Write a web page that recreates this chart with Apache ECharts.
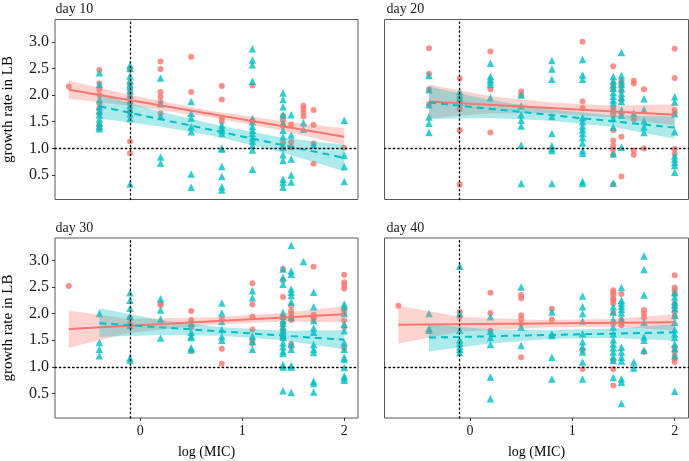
<!DOCTYPE html>
<html>
<head>
<meta charset="utf-8">
<script src="https://cdn.jsdelivr.net/npm/echarts@6/dist/echarts.min.js"></script>
<style>
  html, body { margin: 0; padding: 0; background: #fff; }
  #chart { width: 689px; height: 461px; }
</style>
</head>
<body>
<div id="chart"></div>
<script>
// log(MIC) levels, every column of points below is aligned to these
var xLevels = [-0.7, -0.4, -0.1, 0.2, 0.5, 0.8, 1.1, 1.4, 1.48, 1.6, 1.7, 2.0];
var xTicks = [0, 1, 2];
var yTicks = [0.5, 1.0, 1.5, 2.0, 2.5, 3.0];
var panelTitles = ['day 10', 'day 20', 'day 30', 'day 40'];
var micLine = -0.1;   // vertical dotted line
var rateLine = 1.0;   // horizontal dotted line

// day 10
var d10Red = [
  [2.16], [2.47, 2.22, 2.11, 2.0, 1.84, 1.75, 1.66, 1.44, 1.38], [2.49, 2.2, 2.06, 1.97, 1.84, 1.69, 1.13, 0.91],
  [2.63, 2.49, 2.06, 1.97, 1.87, 1.66], [2.72, 2.06], [2.17, 1.92, 1.56, 1.5], [2.18, 1.52],
  [1.61, 1.53, 1.42, 1.1, 1.0], [1.45, 1.12, 1.02], [1.8, 1.74, 1.67, 1.6], [1.72, 1.44, 1.09, 0.71], [1.01]
];
var d10Teal = [
  [], [2.42, 2.2, 1.92, 1.78, 1.7, 1.63, 1.55, 1.47, 1.41, 1.37],
  [2.56, 2.5, 2.36, 2.28, 2.2, 2.16, 2.08, 2.0, 1.9, 1.81, 1.73, 1.65, 1.56, 0.33],
  [2.32, 1.84, 1.6, 0.84, 0.72], [1.88, 1.66, 1.57, 1.4, 1.31, 0.52, 0.27],
  [1.44, 1.38, 1.34, 1.28, 1.0, 0.99, 0.66, 0.47, 0.28, 0.22],
  [2.87, 2.66, 2.57, 2.26, 1.56, 1.5, 1.41, 1.34, 1.28, 1.2, 1.14, 1.06, 0.97, 0.61],
  [2.04, 1.92, 1.78, 1.63, 1.47, 1.34, 1.22, 1.03, 0.88, 0.77, 0.42, 0.36, 0.27],
  [1.63, 1.25, 0.8, 0.5, 0.37], [1.48, 1.36], [1.06], [1.53, 0.87, 0.66, 0.38]
];
var d10RedFit = [[-0.7, 2.10], [2.0, 1.22]];
var d10TealFit = [[-0.4, 1.79], [2.0, 0.82]];
var d10RedBand = [[-0.7, 1.93, 2.27], [-0.1, 1.80, 2.00], [0.7, 1.58, 1.70], [1.4, 1.33, 1.51], [2.0, 1.06, 1.38]];
var d10TealBand = [[-0.4, 1.56, 2.02], [0.2, 1.41, 1.69], [0.8, 1.20, 1.42], [1.4, 0.92, 1.20], [2.0, 0.57, 1.07]];

// day 20
var d20Red = [
  [], [2.88, 2.4, 2.11, 1.83], [2.31, 1.91, 1.74, 1.34, 0.32], [2.82, 2.11, 1.3], [2.07, 2.0], [],
  [3.0, 1.88, 1.76], [2.54, 2.21, 2.12, 1.75, 1.62, 1.34, 1.15, 1.05, 0.98, 0.88, 0.32],
  [2.26, 2.18, 2.08, 1.92, 1.66, 1.22, 0.47], [2.27, 2.22, 1.54, 0.96, 0.88], [2.11, 1.0],
  [2.87, 2.32, 1.72, 1.66, 0.99, 0.9]
];
var d20Teal = [
  [], [2.37, 2.1, 1.82, 1.59, 1.47, 1.3], [2.07, 2.0, 1.94, 1.87], [2.6, 2.35, 2.3, 2.25, 2.2, 1.95],
  [2.0, 1.8, 1.63, 1.53, 1.42, 1.06, 0.34], [2.65, 2.49, 2.3, 1.6, 1.28, 1.05, 1.0, 0.96, 0.34],
  [2.67, 2.38, 2.3, 1.58, 1.5, 1.42, 1.35, 1.28, 1.2, 1.1, 0.96, 0.91, 0.38, 0.34],
  [2.35, 2.27, 2.2, 2.13, 2.05, 1.98, 1.91, 1.85, 1.72, 1.56, 1.4, 0.9, 0.35],
  [2.8, 2.37, 2.27, 2.2, 2.12, 2.03, 1.95, 1.88, 1.72, 1.62, 1.02], [1.66],
  [1.93, 1.73, 1.52, 1.4, 1.3], [1.97, 1.87, 1.65, 1.31, 0.86, 0.8, 0.74, 0.68, 0.55]
];
var d20RedFit = [[-0.4, 1.88], [2.0, 1.63]];
var d20TealFit = [[-0.4, 1.86], [2.0, 1.39]];
var d20RedBand = [[-0.4, 1.56, 2.20], [0.2, 1.66, 1.98], [0.8, 1.66, 1.86], [1.4, 1.58, 1.80], [2.0, 1.43, 1.83]];
var d20TealBand = [[-0.4, 1.55, 2.16], [0.2, 1.57, 1.91], [0.8, 1.52, 1.73], [1.4, 1.40, 1.62], [2.0, 1.18, 1.60]];

// day 30
var d30Red = [
  [2.52], [], [1.92, 1.8], [2.19, 2.16], [2.05, 1.88, 1.75, 1.3], [1.9, 1.34, 1.06],
  [2.57, 2.17, 1.94, 1.7, 1.5, 1.44], [2.84, 2.62, 2.31, 1.93, 1.82, 1.7, 1.65, 1.55],
  [2.15, 2.05, 2.0, 1.93, 1.88, 1.43, 1.38], [], [2.88, 1.98, 1.93, 1.88],
  [2.73, 2.59, 2.53, 2.47, 2.09, 2.02, 1.87, 1.75, 1.36]
];
var d30Teal = [
  [], [2.0, 1.46, 1.33, 1.21], [2.39, 2.25, 2.1, 1.95, 1.78, 1.17, 1.13], [2.28, 2.07, 1.9, 1.54],
  [1.82, 1.65, 1.58, 1.55, 1.36, 1.32], [2.2, 2.01, 1.85, 1.7, 1.57, 1.5], [2.43, 2.3, 1.58, 1.48, 1.33],
  [2.84, 2.68, 2.55, 2.02, 1.95, 1.88, 1.82, 1.75, 1.68, 1.6, 1.55, 1.45, 1.38, 1.3, 1.25, 1.04, 1.0, 0.55],
  [3.28, 2.8, 2.74, 2.46, 2.4, 2.34, 2.22, 1.93, 1.43, 1.33, 1.02, 1.0, 0.52], [2.98],
  [2.4, 2.13, 1.87, 1.73, 1.65, 1.42, 1.33, 1.27, 0.73, 0.69, 0.53],
  [2.18, 2.13, 2.0, 1.8, 1.68, 1.46, 1.33, 1.18, 1.14, 0.99, 0.83, 0.79, 0.75]
];
var d30RedFit = [[-0.7, 1.71], [2.0, 1.99]];
var d30TealFit = [[-0.4, 1.82], [2.0, 1.51]];
var d30RedBand = [[-0.7, 1.36, 2.06], [-0.1, 1.64, 1.90], [0.7, 1.79, 1.93], [1.4, 1.85, 2.01], [2.0, 1.84, 2.14]];
var d30TealBand = [[-0.4, 1.56, 2.10], [0.2, 1.60, 1.88], [0.8, 1.585, 1.745], [1.4, 1.50, 1.68], [2.0, 1.33, 1.69]];

// day 40
var d40Red = [
  [2.15], [], [2.03, 1.94], [2.39, 2.01, 1.68], [2.35, 2.29, 1.97, 1.9, 1.81, 1.18], [2.09, 1.89],
  [1.31, 0.96], [2.44, 2.39, 2.35, 2.28, 2.25, 2.19, 2.01, 1.81, 1.12, 0.96, 0.65],
  [2.37, 1.88, 1.84, 1.78], [], [2.07, 2.0, 1.93, 1.28],
  [2.72, 2.49, 2.44, 2.37, 2.19, 2.11, 2.03, 1.94, 1.37, 1.3, 1.21, 1.15, 1.09]
];
var d40Teal = [
  [], [2.0, 1.72, 1.69], [2.89, 2.0, 1.69, 1.51, 1.45, 1.38, 1.33, 1.27], [1.94, 1.67, 1.55, 1.42, 0.81, 0.4],
  [2.5, 1.75, 1.4], [2.03, 1.62, 1.59, 1.18, 0.77], [2.33, 2.13, 2.0, 1.86, 1.62, 1.47, 1.38, 1.28, 1.09, 0.77],
  [2.13, 2.03, 1.89, 1.75, 1.62, 1.51, 1.43, 1.36, 1.28, 1.19, 1.12, 0.8],
  [2.49, 2.25, 2.2, 2.14, 2.08, 2.01, 1.89, 1.37, 1.28, 1.18, 1.11, 0.77, 0.71, 0.31], [1.09, 0.98],
  [3.08, 2.83, 2.35, 1.84, 1.56, 1.5, 1.31],
  [2.39, 2.31, 2.22, 2.16, 2.09, 1.97, 1.84, 1.7, 1.62, 1.55, 1.43, 1.34, 1.21, 0.54]
];
var d40RedFit = [[-0.7, 1.79], [2.0, 1.84]];
var d40TealFit = [[-0.4, 1.55], [2.0, 1.65]];
var d40RedBand = [[-0.7, 1.44, 2.15], [-0.1, 1.66, 1.94], [0.7, 1.74, 1.88], [1.4, 1.76, 1.90], [2.0, 1.69, 1.99]];
var d40TealBand = [[-0.4, 1.29, 1.81], [0.2, 1.44, 1.70], [0.8, 1.53, 1.69], [1.4, 1.54, 1.72], [2.0, 1.49, 1.80]];

var RED = '#F8766D', TEAL = '#00BFC4';
var FONT = '"Liberation Serif", "DejaVu Serif", serif';

var panels = [
  { red: d10Red, teal: d10Teal, redFit: d10RedFit, tealFit: d10TealFit, redBand: d10RedBand, tealBand: d10TealBand },
  { red: d20Red, teal: d20Teal, redFit: d20RedFit, tealFit: d20TealFit, redBand: d20RedBand, tealBand: d20TealBand },
  { red: d30Red, teal: d30Teal, redFit: d30RedFit, tealFit: d30TealFit, redBand: d30RedBand, tealBand: d30TealBand },
  { red: d40Red, teal: d40Teal, redFit: d40RedFit, tealFit: d40TealFit, redBand: d40RedBand, tealBand: d40TealBand }
];

var gridPos = [
  { left: 53.5, top: 19.5, width: 304.5, height: 180 },
  { left: 384.5, top: 19.5, width: 304, height: 180 },
  { left: 53.5, top: 238, width: 304.5, height: 180 },
  { left: 384.5, top: 238, width: 304, height: 180 }
];

function toPairs(cols) {
  var out = [];
  cols.forEach(function (ys, i) {
    ys.forEach(function (y) { out.push([xLevels[i], y]); });
  });
  return out;
}

function bandSeries(gi, band, fill) {
  return {
    type: 'custom', xAxisIndex: gi, yAxisIndex: gi, silent: true, z: 3,
    data: [0],
    renderItem: function (params, api) {
      var pts = [];
      band.forEach(function (b) { pts.push(api.coord([b[0], b[2]])); });
      for (var i = band.length - 1; i >= 0; i--) pts.push(api.coord([band[i][0], band[i][1]]));
      return { type: 'polygon', shape: { points: pts }, style: { fill: fill } };
    }
  };
}

var grids = [], xAxes = [], yAxes = [], series = [], graphics = [];

gridPos.forEach(function (g, i) {
  var bottomRow = i >= 2, leftCol = i % 2 === 0;
  grids.push({
    left: g.left, top: g.top, width: g.width, height: g.height,
    show: true, borderColor: '#595959', borderWidth: 1, backgroundColor: 'transparent'
  });
  xAxes.push({
    type: 'value', gridIndex: i, min: -0.835, max: 2.135,
    axisLine: { show: false, onZero: false }, splitLine: { show: false },
    axisTick: { show: bottomRow, customValues: xTicks, length: 3, lineStyle: { color: '#333' } },
    axisLabel: { show: bottomRow, customValues: xTicks, margin: 6, fontFamily: FONT, fontSize: 14, color: '#1a1a1a' },
    name: bottomRow ? 'log (MIC)' : '', nameLocation: 'middle', nameGap: 27,
    nameTextStyle: { fontFamily: FONT, fontSize: 14, color: '#000' }
  });
  yAxes.push({
    type: 'value', gridIndex: i, min: 0.04, max: 3.42,
    axisLine: { show: false, onZero: false }, splitLine: { show: false },
    axisTick: { show: leftCol, customValues: yTicks, length: 3, lineStyle: { color: '#333' } },
    axisLabel: {
      show: leftCol, customValues: yTicks, margin: 6, fontFamily: FONT, fontSize: 16, color: '#1a1a1a',
      formatter: function (v) { return v.toFixed(1); }
    },
    name: leftCol ? 'growth rate in LB' : '', nameLocation: 'middle', nameGap: 39,
    nameTextStyle: { fontFamily: FONT, fontSize: 15, color: '#000' }
  });

  var p = panels[i];
  series.push({
    type: 'scatter', xAxisIndex: i, yAxisIndex: i, z: 2,
    symbol: 'circle', symbolSize: 6, itemStyle: { color: RED },
    data: toPairs(p.red)
  });
  series.push({
    type: 'scatter', xAxisIndex: i, yAxisIndex: i, z: 2,
    symbol: 'triangle', symbolSize: 7.5, itemStyle: { color: TEAL },
    data: toPairs(p.teal),
    markLine: {
      silent: true, symbol: ['none', 'none'], label: { show: false },
      lineStyle: { color: '#000', type: [1.4, 3], width: 1.3, cap: 'round' },
      data: [{ xAxis: micLine }, { yAxis: rateLine }]
    }
  });
  series.push(bandSeries(i, p.redBand, 'rgba(248,118,109,0.32)'));
  series.push(bandSeries(i, p.tealBand, 'rgba(0,191,196,0.32)'));
  series.push({
    type: 'line', xAxisIndex: i, yAxisIndex: i, z: 4, symbol: 'none',
    lineStyle: { color: RED, width: 2 }, data: p.redFit
  });
  series.push({
    type: 'line', xAxisIndex: i, yAxisIndex: i, z: 4, symbol: 'none',
    lineStyle: { color: TEAL, width: 2, type: [7, 5] }, data: p.tealFit
  });

  graphics.push({
    type: 'text', x: g.left + 2, y: g.top - 10,
    style: { text: panelTitles[i], font: '14px ' + FONT, fill: '#1a1a1a', textVerticalAlign: 'middle' }
  });
});

var myChart = echarts.init(document.getElementById('chart'));
myChart.setOption({
  animation: false,
  grid: grids,
  xAxis: xAxes,
  yAxis: yAxes,
  series: series,
  graphic: graphics
});
</script>
</body>
</html>
